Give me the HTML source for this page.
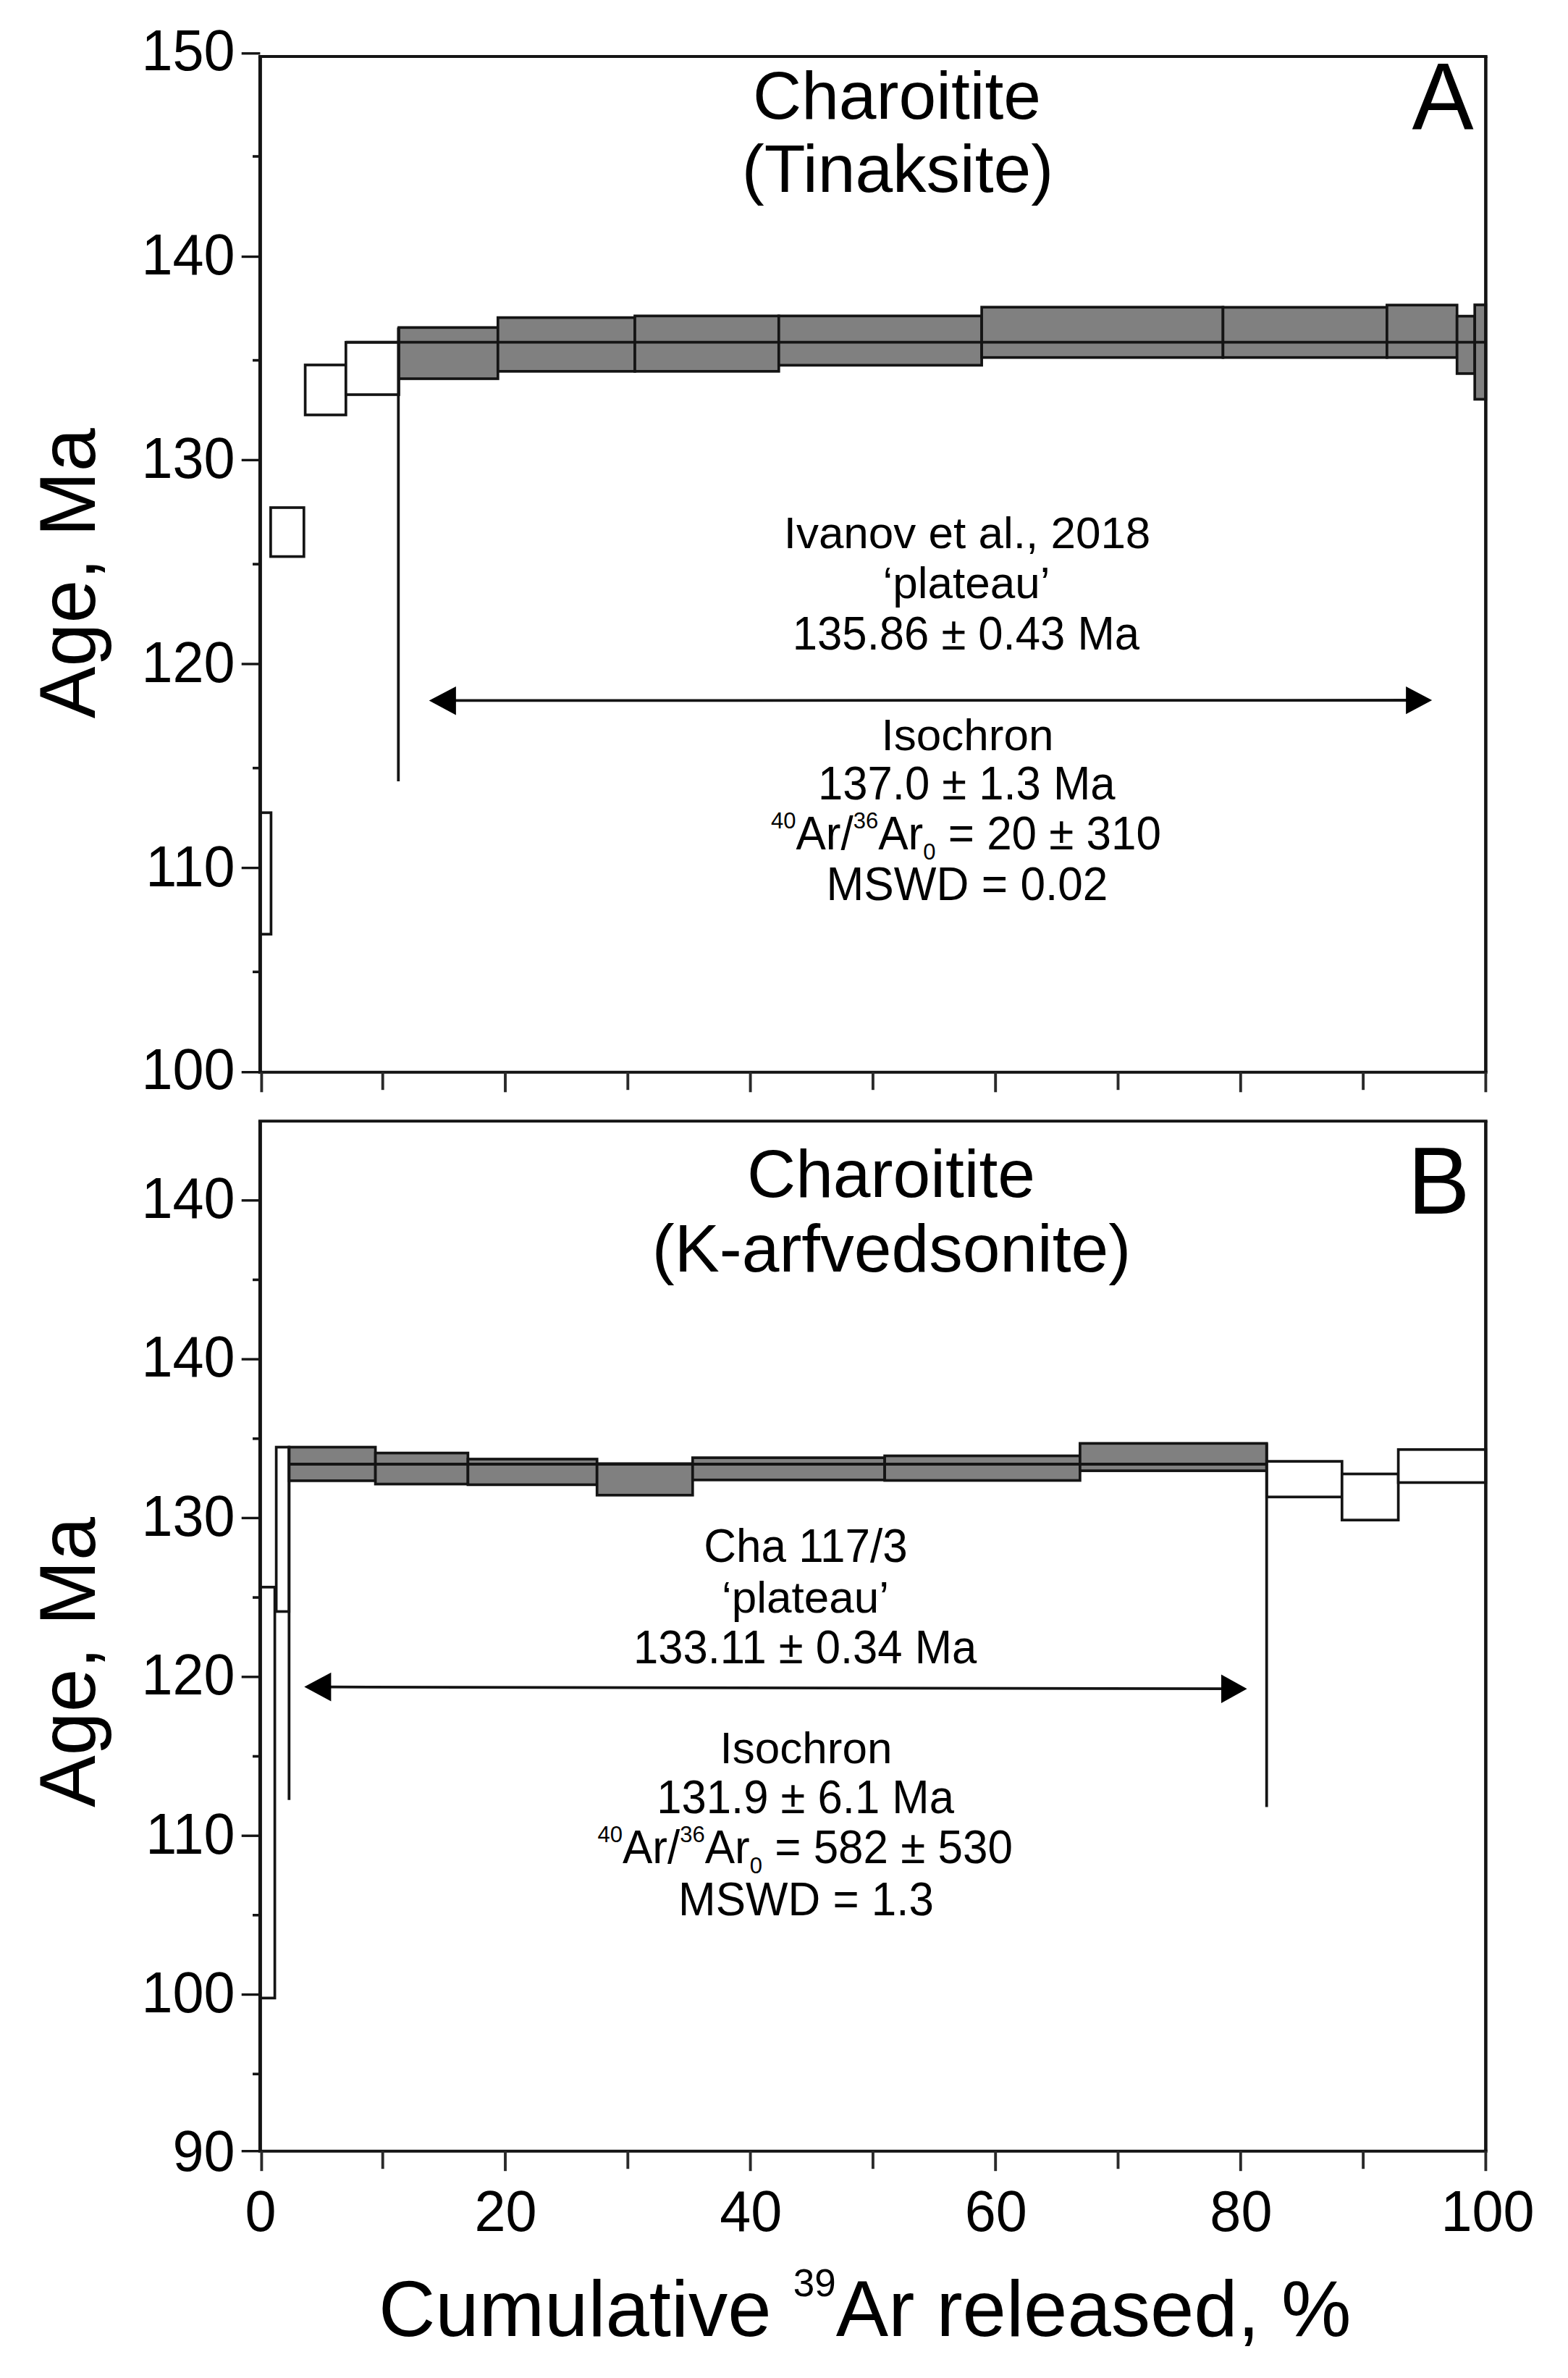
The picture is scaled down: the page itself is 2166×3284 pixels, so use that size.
<!DOCTYPE html>
<html lang="en"><head><meta charset="utf-8"><title>Ar-Ar age spectra</title>
<style>html,body{margin:0;padding:0;background:#fff}svg{display:block}text{font-family:"Liberation Sans",sans-serif;fill:#000}</style>
</head><body>
<svg width="2166" height="3284" viewBox="0 0 2166 3284">
<rect x="0" y="0" width="2166" height="3284" fill="#fff"/>
<g id="panelA">
<rect x="359.4" y="1122.3" width="15.0" height="167.8" fill="#fff" stroke="#141414" stroke-width="3.7"/>
<rect x="373.9" y="701.0" width="45.9" height="67.6" fill="#fff" stroke="#141414" stroke-width="3.7"/>
<rect x="421.6" y="504.0" width="56.2" height="69.0" fill="#fff" stroke="#141414" stroke-width="3.7"/>
<rect x="477.8" y="472.7" width="73.2" height="72.3" fill="#fff" stroke="#141414" stroke-width="3.7"/>
<rect x="551.0" y="452.3" width="136.8" height="70.7" fill="#808080" stroke="#141414" stroke-width="3.7"/>
<rect x="687.8" y="438.6" width="189.2" height="74.2" fill="#808080" stroke="#141414" stroke-width="3.7"/>
<rect x="877.0" y="436.3" width="198.8" height="76.5" fill="#808080" stroke="#141414" stroke-width="3.7"/>
<rect x="1075.8" y="436.3" width="280.3" height="68.1" fill="#808080" stroke="#141414" stroke-width="3.7"/>
<rect x="1356.1" y="424.2" width="333.3" height="69.5" fill="#808080" stroke="#141414" stroke-width="3.7"/>
<rect x="1689.4" y="424.4" width="226.5" height="69.3" fill="#808080" stroke="#141414" stroke-width="3.7"/>
<rect x="1915.9" y="421.3" width="96.8" height="72.4" fill="#808080" stroke="#141414" stroke-width="3.7"/>
<rect x="2012.7" y="436.6" width="24.5" height="79.3" fill="#808080" stroke="#141414" stroke-width="3.7"/>
<rect x="2037.2" y="421.0" width="15.2" height="130.4" fill="#808080" stroke="#141414" stroke-width="3.7"/>
<line x1="477.8" y1="472.7" x2="2052.4" y2="472.7" stroke="#141414" stroke-width="3.8"/>
<line x1="550.3" y1="452.3" x2="550.3" y2="1079.0" stroke="#141414" stroke-width="3.8"/>
<line x1="625.0" y1="967.4" x2="1946.0" y2="967.0" stroke="#141414" stroke-width="3.8"/>
<polygon points="592.7,967.6 629.9,948 629.9,987.4" fill="#000"/>
<polygon points="1978.2,967 1942.1,948 1942.1,986.2" fill="#000"/>
<line x1="356.9" y1="78.0" x2="2054.7" y2="78.0" stroke="#141414" stroke-width="4.0"/>
<line x1="356.9" y1="1480.7" x2="2054.7" y2="1480.7" stroke="#141414" stroke-width="4.0"/>
<line x1="359.4" y1="78.0" x2="359.4" y2="1480.7" stroke="#141414" stroke-width="5"/>
<line x1="2052.4" y1="78.0" x2="2052.4" y2="1480.7" stroke="#141414" stroke-width="4.6"/>
<line x1="333.7" y1="73.8" x2="359.4" y2="73.8" stroke="#141414" stroke-width="3.4"/>
<line x1="333.7" y1="354.5" x2="359.4" y2="354.5" stroke="#141414" stroke-width="3.4"/>
<line x1="333.7" y1="635.4" x2="359.4" y2="635.4" stroke="#141414" stroke-width="3.4"/>
<line x1="333.7" y1="917.0" x2="359.4" y2="917.0" stroke="#141414" stroke-width="3.4"/>
<line x1="333.7" y1="1198.6" x2="359.4" y2="1198.6" stroke="#141414" stroke-width="3.4"/>
<line x1="333.7" y1="1480.7" x2="359.4" y2="1480.7" stroke="#141414" stroke-width="3.4"/>
<line x1="349.0" y1="216.0" x2="359.4" y2="216.0" stroke="#141414" stroke-width="3.6"/>
<line x1="349.0" y1="497.6" x2="359.4" y2="497.6" stroke="#141414" stroke-width="3.6"/>
<line x1="349.0" y1="779.1" x2="359.4" y2="779.1" stroke="#141414" stroke-width="3.6"/>
<line x1="349.0" y1="1060.7" x2="359.4" y2="1060.7" stroke="#141414" stroke-width="3.6"/>
<line x1="349.0" y1="1342.2" x2="359.4" y2="1342.2" stroke="#141414" stroke-width="3.6"/>
<line x1="361.4" y1="1480.7" x2="361.4" y2="1508.3" stroke="#2a2a2a" stroke-width="3.9"/>
<line x1="528.7" y1="1480.7" x2="528.7" y2="1505.2" stroke="#2a2a2a" stroke-width="3.9"/>
<line x1="698.0" y1="1480.7" x2="698.0" y2="1508.3" stroke="#2a2a2a" stroke-width="3.9"/>
<line x1="867.3" y1="1480.7" x2="867.3" y2="1505.2" stroke="#2a2a2a" stroke-width="3.9"/>
<line x1="1036.6" y1="1480.7" x2="1036.6" y2="1508.3" stroke="#2a2a2a" stroke-width="3.9"/>
<line x1="1205.9" y1="1480.7" x2="1205.9" y2="1505.2" stroke="#2a2a2a" stroke-width="3.9"/>
<line x1="1375.2" y1="1480.7" x2="1375.2" y2="1508.3" stroke="#2a2a2a" stroke-width="3.9"/>
<line x1="1544.5" y1="1480.7" x2="1544.5" y2="1505.2" stroke="#2a2a2a" stroke-width="3.9"/>
<line x1="1713.8" y1="1480.7" x2="1713.8" y2="1508.3" stroke="#2a2a2a" stroke-width="3.9"/>
<line x1="1883.1" y1="1480.7" x2="1883.1" y2="1505.2" stroke="#2a2a2a" stroke-width="3.9"/>
<line x1="2052.4" y1="1480.7" x2="2052.4" y2="1508.3" stroke="#2a2a2a" stroke-width="3.9"/>
</g>
<g id="panelB">
<rect x="359.4" y="2191.8" width="20.2" height="567.5" fill="#fff" stroke="#141414" stroke-width="3.7"/>
<rect x="381.6" y="1998.5" width="17.7" height="227.0" fill="#fff" stroke="#141414" stroke-width="3.7"/>
<rect x="399.3" y="1998.5" width="119.3" height="46.4" fill="#808080" stroke="#141414" stroke-width="3.7"/>
<rect x="518.6" y="2006.6" width="127.8" height="42.9" fill="#808080" stroke="#141414" stroke-width="3.7"/>
<rect x="646.4" y="2015.0" width="178.3" height="35.4" fill="#808080" stroke="#141414" stroke-width="3.7"/>
<rect x="824.7" y="2021.3" width="132.1" height="43.5" fill="#808080" stroke="#141414" stroke-width="3.7"/>
<rect x="956.8" y="2013.1" width="265.3" height="30.7" fill="#808080" stroke="#141414" stroke-width="3.7"/>
<rect x="1222.1" y="2010.5" width="269.8" height="34.0" fill="#808080" stroke="#141414" stroke-width="3.7"/>
<rect x="1491.9" y="1993.3" width="257.9" height="37.8" fill="#808080" stroke="#141414" stroke-width="3.7"/>
<rect x="1749.8" y="2018.1" width="104.0" height="49.2" fill="#fff" stroke="#141414" stroke-width="3.7"/>
<rect x="1853.8" y="2035.5" width="77.8" height="63.7" fill="#fff" stroke="#141414" stroke-width="3.7"/>
<rect x="1931.6" y="2001.8" width="120.8" height="45.6" fill="#fff" stroke="#141414" stroke-width="3.7"/>
<line x1="399.3" y1="2022.0" x2="1749.8" y2="2022.0" stroke="#141414" stroke-width="3.8"/>
<line x1="399.3" y1="1998.5" x2="399.3" y2="2485.7" stroke="#141414" stroke-width="3.8"/>
<line x1="1749.7" y1="1993.3" x2="1749.7" y2="2495.5" stroke="#141414" stroke-width="3.8"/>
<line x1="453.0" y1="2329.7" x2="1691.0" y2="2332.2" stroke="#141414" stroke-width="3.8"/>
<polygon points="420.3,2329.6 457.4,2309.8 457.4,2349.4" fill="#000"/>
<polygon points="1722.6,2332.3 1687,2312.5 1687,2352" fill="#000"/>
<line x1="356.9" y1="1548.3" x2="2054.7" y2="1548.3" stroke="#141414" stroke-width="4.0"/>
<line x1="356.9" y1="2970.7" x2="2054.7" y2="2970.7" stroke="#141414" stroke-width="4.0"/>
<line x1="359.4" y1="1548.3" x2="359.4" y2="2970.7" stroke="#141414" stroke-width="5"/>
<line x1="2052.4" y1="1548.3" x2="2052.4" y2="2970.7" stroke="#141414" stroke-width="4.6"/>
<line x1="333.7" y1="2970.7" x2="359.4" y2="2970.7" stroke="#141414" stroke-width="3.4"/>
<line x1="333.7" y1="2754.5" x2="359.4" y2="2754.5" stroke="#141414" stroke-width="3.4"/>
<line x1="333.7" y1="2535.2" x2="359.4" y2="2535.2" stroke="#141414" stroke-width="3.4"/>
<line x1="333.7" y1="2315.8" x2="359.4" y2="2315.8" stroke="#141414" stroke-width="3.4"/>
<line x1="333.7" y1="2096.4" x2="359.4" y2="2096.4" stroke="#141414" stroke-width="3.4"/>
<line x1="333.7" y1="1877.1" x2="359.4" y2="1877.1" stroke="#141414" stroke-width="3.4"/>
<line x1="333.7" y1="1657.8" x2="359.4" y2="1657.8" stroke="#141414" stroke-width="3.4"/>
<line x1="349.0" y1="2864.2" x2="359.4" y2="2864.2" stroke="#141414" stroke-width="3.6"/>
<line x1="349.0" y1="2644.8" x2="359.4" y2="2644.8" stroke="#141414" stroke-width="3.6"/>
<line x1="349.0" y1="2425.5" x2="359.4" y2="2425.5" stroke="#141414" stroke-width="3.6"/>
<line x1="349.0" y1="2206.1" x2="359.4" y2="2206.1" stroke="#141414" stroke-width="3.6"/>
<line x1="349.0" y1="1986.8" x2="359.4" y2="1986.8" stroke="#141414" stroke-width="3.6"/>
<line x1="349.0" y1="1767.4" x2="359.4" y2="1767.4" stroke="#141414" stroke-width="3.6"/>
<line x1="361.4" y1="2970.7" x2="361.4" y2="2998.2" stroke="#2a2a2a" stroke-width="3.9"/>
<line x1="528.7" y1="2970.7" x2="528.7" y2="2995.2" stroke="#2a2a2a" stroke-width="3.9"/>
<line x1="698.0" y1="2970.7" x2="698.0" y2="2998.2" stroke="#2a2a2a" stroke-width="3.9"/>
<line x1="867.3" y1="2970.7" x2="867.3" y2="2995.2" stroke="#2a2a2a" stroke-width="3.9"/>
<line x1="1036.6" y1="2970.7" x2="1036.6" y2="2998.2" stroke="#2a2a2a" stroke-width="3.9"/>
<line x1="1205.9" y1="2970.7" x2="1205.9" y2="2995.2" stroke="#2a2a2a" stroke-width="3.9"/>
<line x1="1375.2" y1="2970.7" x2="1375.2" y2="2998.2" stroke="#2a2a2a" stroke-width="3.9"/>
<line x1="1544.5" y1="2970.7" x2="1544.5" y2="2995.2" stroke="#2a2a2a" stroke-width="3.9"/>
<line x1="1713.8" y1="2970.7" x2="1713.8" y2="2998.2" stroke="#2a2a2a" stroke-width="3.9"/>
<line x1="1883.1" y1="2970.7" x2="1883.1" y2="2995.2" stroke="#2a2a2a" stroke-width="3.9"/>
<line x1="2052.4" y1="2970.7" x2="2052.4" y2="2998.2" stroke="#2a2a2a" stroke-width="3.9"/>
</g>
<g id="labels">
<text transform="translate(324.6,97.2) scale(0.965,1)" font-size="80.2" text-anchor="end">150</text>
<text transform="translate(324.6,378.8) scale(0.965,1)" font-size="80.2" text-anchor="end">140</text>
<text transform="translate(324.6,660.3) scale(0.965,1)" font-size="80.2" text-anchor="end">130</text>
<text transform="translate(324.6,941.9) scale(0.965,1)" font-size="80.2" text-anchor="end">120</text>
<text transform="translate(324.6,1223.5) scale(0.965,1)" font-size="80.2" text-anchor="end">110</text>
<text transform="translate(324.6,1503.8) scale(0.965,1)" font-size="80.2" text-anchor="end">100</text>
<text transform="translate(324.6,2998.2) scale(0.965,1)" font-size="80.2" text-anchor="end">90</text>
<text transform="translate(324.6,2778.8) scale(0.965,1)" font-size="80.2" text-anchor="end">100</text>
<text transform="translate(324.6,2559.5) scale(0.965,1)" font-size="80.2" text-anchor="end">110</text>
<text transform="translate(324.6,2340.1) scale(0.965,1)" font-size="80.2" text-anchor="end">120</text>
<text transform="translate(324.6,2120.8) scale(0.965,1)" font-size="80.2" text-anchor="end">130</text>
<text transform="translate(324.6,1901.4) scale(0.965,1)" font-size="80.2" text-anchor="end">140</text>
<text transform="translate(324.6,1682.0) scale(0.965,1)" font-size="80.2" text-anchor="end">140</text>
<text transform="translate(360.0,3081.3) scale(0.965,1)" font-size="80.2" text-anchor="middle">0</text>
<text transform="translate(698.6,3081.3) scale(0.965,1)" font-size="80.2" text-anchor="middle">20</text>
<text transform="translate(1037.2,3081.3) scale(0.965,1)" font-size="80.2" text-anchor="middle">40</text>
<text transform="translate(1375.8,3081.3) scale(0.965,1)" font-size="80.2" text-anchor="middle">60</text>
<text transform="translate(1714.4,3081.3) scale(0.965,1)" font-size="80.2" text-anchor="middle">80</text>
<text transform="translate(2055.0,3081.3) scale(0.965,1)" font-size="80.2" text-anchor="middle">100</text>
<text transform="translate(131,791.8) rotate(-90) scale(0.982,1)" font-size="109.6" text-anchor="middle">Age, Ma</text>
<text transform="translate(131,2295.6) rotate(-90) scale(0.982,1)" font-size="109.6" text-anchor="middle">Age, Ma</text>
<text x="523" y="3226" font-size="108.5" text-anchor="start">Cumulative <tspan font-size="53" dy="-55">39</tspan><tspan dy="55">Ar released, %</tspan></text>
<text x="1239.0" y="163.6" font-size="93" text-anchor="middle">Charoitite</text>
<text x="1240.0" y="265.3" font-size="93" text-anchor="middle">(Tinaksite)</text>
<text x="1231.0" y="1653.0" font-size="93" text-anchor="middle">Charoitite</text>
<text x="1231.5" y="1756.4" font-size="93" text-anchor="middle">(K-arfvedsonite)</text>
<text transform="translate(1993.0,179.0) scale(0.975,1)" font-size="131" text-anchor="middle">A</text>
<text transform="translate(1987.5,1676.4) scale(0.985,1)" font-size="131" text-anchor="middle">B</text>
<text x="1336.0" y="756.8" font-size="62" text-anchor="middle">Ivanov et al., 2018</text>
<text x="1335.0" y="826.4" font-size="62" text-anchor="middle">‘plateau’</text>
<text transform="translate(1334.4,896.5) scale(0.963,1)" font-size="64" text-anchor="middle">135.86 ± 0.43 Ma</text>
<text x="1336.5" y="1036.3" font-size="62" text-anchor="middle">Isochron</text>
<text transform="translate(1335.3,1104.0) scale(0.963,1)" font-size="64" text-anchor="middle">137.0 ± 1.3 Ma</text>
<text transform="translate(1065.0,1173.3) scale(0.969,1)" font-size="64" text-anchor="start"><tspan font-size="32" dy="-29">40</tspan><tspan dy="29">Ar/</tspan><tspan font-size="32" dy="-29">36</tspan><tspan dy="29">Ar</tspan><tspan font-size="32" dy="13.5">0</tspan><tspan dy="-13.5"> = 20 ± 310</tspan></text>
<text transform="translate(1336.0,1243.4) scale(0.972,1)" font-size="64" text-anchor="middle">MSWD = 0.02</text>
<text transform="translate(1113.0,2156.8) scale(0.969,1)" font-size="64" text-anchor="middle">Cha 117/3</text>
<text x="1112.5" y="2227.3" font-size="62" text-anchor="middle">‘plateau’</text>
<text transform="translate(1112.1,2296.5) scale(0.962,1)" font-size="64" text-anchor="middle">133.11 ± 0.34 Ma</text>
<text x="1113.5" y="2434.6" font-size="62" text-anchor="middle">Isochron</text>
<text transform="translate(1112.6,2504.3) scale(0.963,1)" font-size="64" text-anchor="middle">131.9 ± 6.1 Ma</text>
<text transform="translate(825.5,2573.0) scale(0.969,1)" font-size="64" text-anchor="start"><tspan font-size="32" dy="-29">40</tspan><tspan dy="29">Ar/</tspan><tspan font-size="32" dy="-29">36</tspan><tspan dy="29">Ar</tspan><tspan font-size="32" dy="13.5">0</tspan><tspan dy="-13.5"> = 582 ± 530</tspan></text>
<text transform="translate(1113.5,2644.5) scale(0.968,1)" font-size="64" text-anchor="middle">MSWD = 1.3</text>
</g>
</svg></body></html>
